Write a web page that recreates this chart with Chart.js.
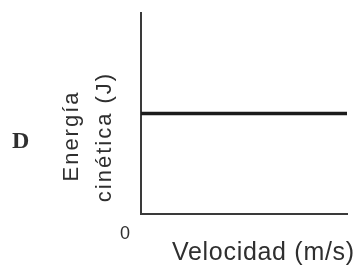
<!DOCTYPE html>
<html>
<head>
<meta charset="utf-8">
<script src="https://cdn.jsdelivr.net/npm/chart.js@4/dist/chart.umd.min.js"></script>
<style>
  html, body { margin: 0; padding: 0; background: #fff; }
  #wrap { position: relative; width: 359px; height: 267px; }
  canvas { display: block; }
</style>
</head>
<body>
<div id="wrap"><canvas id="c" width="359" height="267"></canvas></div>
<script>
// ---- data ----
const panelLabel = 'D';
const velocity = [0, 10];          // x values (m/s, arbitrary units)
const kineticEnergy = [5, 5];      // y values (J, arbitrary units) – constant
const xTickLabels = ['0'];
const xTitle = 'Velocidad (m/s)';
const yTitleLines = ['Energía', 'cinética (J)'];

const TEXT = '#2f2f2f';
const AXIS = '#3a3a3a';

const textPlugin = {
  id: 'textPlugin',
  afterDraw(chart) {
    const { ctx } = chart;
    ctx.save();
    ctx.fillStyle = TEXT;
    // panel letter
    ctx.font = 'bold 24px "Liberation Serif"';
    ctx.textAlign = 'left';
    ctx.textBaseline = 'alphabetic';
    ctx.fillText(panelLabel, 12, 148);
    // x title
    ctx.font = '25px "Liberation Sans"';
    ctx.letterSpacing = '0.7px';
    ctx.textAlign = 'left';
    ctx.fillText(xTitle, 172, 260);
    // y title (rotated)
    ctx.font = '22px "Liberation Sans"';
    ctx.letterSpacing = '2px';
    ctx.textAlign = 'center';
    const baselines = [78, 111];
    const centers = [136, 137];
    yTitleLines.forEach((t, i) => {
      ctx.save();
      ctx.translate(baselines[i], centers[i]);
      ctx.rotate(-Math.PI / 2);
      ctx.fillText(t, 0, 0);
      ctx.restore();
    });
    ctx.restore();
  }
};

new Chart(document.getElementById('c'), {
  type: 'line',
  data: {
    datasets: [{
      data: velocity.map((v, i) => ({ x: v, y: kineticEnergy[i] })),
      borderColor: '#1c1c1c',
      borderWidth: 3.5,
      pointRadius: 0,
      fill: false,
      tension: 0
    }]
  },
  options: {
    responsive: false,
    animation: false,
    devicePixelRatio: 1,
    layout: { padding: { left: 141, right: 12, top: 13, bottom: 13 } },
    plugins: { legend: { display: false }, tooltip: { enabled: false }, title: { display: false } },
    scales: {
      x: {
        type: 'linear', min: 0, max: 10,
        grid: { display: false, drawTicks: false },
        border: { display: true, color: AXIS, width: 2 },
        afterBuildTicks: s => { s.ticks = xTickLabels.map(() => ({ value: 0 })); },
        ticks: {
          color: TEXT,
          font: { family: '"Liberation Sans"', size: 18, lineHeight: 1 },
          padding: 11,
          labelOffset: -16,
          autoSkip: false,
          maxRotation: 0,
          callback: (v, i) => xTickLabels[i]
        }
      },
      y: {
        type: 'linear', min: 0, max: 10,
        grid: { display: false, drawTicks: false },
        border: { display: true, color: AXIS, width: 2 },
        ticks: { display: false }
      }
    }
  },
  plugins: [textPlugin]
});
</script>
</body>
</html>
